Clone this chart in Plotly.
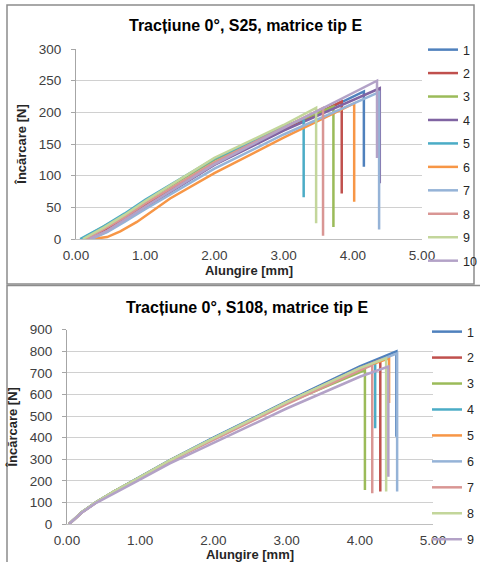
import plotly.graph_objects as go

FONT = "Liberation Sans, Arial, sans-serif"
W, H = 480, 562

# ---------------- Data: S25 (top chart) ----------------
s25_names = ["1", "2", "3", "4", "5", "6", "7", "8", "9", "10"]
s25_colors = ["#4F81BD", "#C0504D", "#9BBB59", "#8064A2", "#4BACC6",
              "#F79646", "#95B3D7", "#D99694", "#C3D69B", "#B3A2C7"]
s25_x1 = [0.12, 0.40, 0.70, 1.00, 2.00, 3.00, 4.16, 4.16]
s25_y1 = [0, 14, 32, 53, 118, 172, 233, 114]
s25_x2 = [0.14, 0.40, 0.70, 1.00, 2.00, 3.00, 3.84, 3.84]
s25_y2 = [0, 14, 33, 54, 119, 172, 217, 72]
s25_x3 = [0.08, 0.40, 0.70, 1.00, 2.00, 3.00, 3.72, 3.72]
s25_y3 = [0, 19, 38, 60, 125, 177, 209, 19]
s25_x4 = [0.20, 0.45, 0.70, 1.00, 2.00, 3.00, 4.39, 4.39]
s25_y4 = [0, 12, 29, 50, 117, 171, 238, 88]
s25_x5 = [0.06, 0.40, 0.70, 1.00, 2.00, 3.00, 3.29, 3.29]
s25_y5 = [0, 20, 40, 62, 127, 177, 190, 66]
s25_x6 = [0.22, 0.45, 0.64, 0.88, 1.36, 2.00, 3.00, 4.02, 4.02]
s25_y6 = [0, 3, 12, 27, 64, 104, 160, 214, 59]
s25_x7 = [0.22, 0.45, 0.70, 1.00, 2.00, 3.00, 4.38, 4.38]
s25_y7 = [0, 11, 27, 47, 111, 165, 232, 15]
s25_x8 = [0.15, 0.40, 0.70, 1.00, 2.00, 3.00, 3.57, 3.57]
s25_y8 = [0, 15, 34, 56, 121, 176, 207, 5]
s25_x9 = [0.10, 0.40, 0.70, 1.00, 2.00, 3.00, 3.47, 3.47]
s25_y9 = [0, 18, 38, 60, 128, 180, 207, 25]
s25_x10 = [0.20, 0.45, 0.70, 1.00, 2.00, 3.00, 4.35, 4.35]
s25_y10 = [0, 13, 30, 51, 118, 175, 250, 128]

# ---------------- Data: S108 (bottom chart) ----------------
s108_names = ["1", "2", "3", "4", "5", "6", "7", "8", "9"]
s108_colors = ["#4F81BD", "#C0504D", "#9BBB59", "#4BACC6", "#F79646",
               "#95B3D7", "#D99694", "#C3D69B", "#B3A2C7"]
s108_x1 = [0.03, 0.20, 0.40, 0.65, 0.90, 1.40, 2.00, 3.00, 4.00, 4.50, 4.50]
s108_y1 = [0, 54, 102, 153, 200, 295, 400, 568, 730, 800, 404]
s108_x2 = [0.03, 0.20, 0.40, 0.65, 0.90, 1.40, 2.00, 3.00, 4.00, 4.28, 4.28]
s108_y2 = [0, 53, 101, 152, 198, 292, 395, 562, 722, 760, 150]
s108_x3 = [0.03, 0.20, 0.40, 0.65, 0.90, 1.40, 2.00, 3.00, 4.07, 4.07]
s108_y3 = [0, 54, 102, 153, 199, 293, 396, 560, 713, 157]
s108_x4 = [0.03, 0.20, 0.40, 0.65, 0.90, 1.40, 2.00, 3.00, 4.00, 4.21, 4.21]
s108_y4 = [0, 54, 102, 153, 199, 294, 398, 565, 720, 745, 444]
s108_x5 = [0.03, 0.20, 0.40, 0.65, 0.90, 1.40, 2.00, 3.00, 4.00, 4.40, 4.40]
s108_y5 = [0, 53, 101, 152, 198, 292, 395, 563, 720, 768, 560]
s108_x6 = [0.03, 0.20, 0.40, 0.65, 0.90, 1.40, 2.00, 3.00, 4.00, 4.51, 4.51]
s108_y6 = [0, 53, 101, 152, 198, 293, 396, 562, 722, 790, 150]
s108_x7 = [0.03, 0.20, 0.40, 0.65, 0.90, 1.40, 2.00, 3.00, 4.00, 4.17, 4.17]
s108_y7 = [0, 53, 100, 150, 196, 290, 390, 555, 712, 736, 143]
s108_x8 = [0.03, 0.20, 0.40, 0.65, 0.90, 1.40, 2.00, 3.00, 4.00, 4.36, 4.36]
s108_y8 = [0, 54, 102, 153, 199, 294, 397, 564, 722, 768, 150]
s108_x9 = [0.03, 0.20, 0.40, 0.65, 0.90, 1.40, 2.00, 3.00, 4.00, 4.39, 4.39]
s108_y9 = [0, 52, 98, 145, 188, 280, 377, 535, 682, 729, 219]

s25_xs = [s25_x1, s25_x2, s25_x3, s25_x4, s25_x5, s25_x6, s25_x7, s25_x8, s25_x9, s25_x10]
s25_ys = [s25_y1, s25_y2, s25_y3, s25_y4, s25_y5, s25_y6, s25_y7, s25_y8, s25_y9, s25_y10]
s108_xs = [s108_x1, s108_x2, s108_x3, s108_x4, s108_x5, s108_x6, s108_x7, s108_x8, s108_x9]
s108_ys = [s108_y1, s108_y2, s108_y3, s108_y4, s108_y5, s108_y6, s108_y7, s108_y8, s108_y9]

x_ticks = [0, 1, 2, 3, 4, 5]
x_ticklabels = ["0.00", "1.00", "2.00", "3.00", "4.00", "5.00"]
s25_yticks = [0, 50, 100, 150, 200, 250, 300]
s108_yticks = [0, 100, 200, 300, 400, 500, 600, 700, 800, 900]

title_top = "Tracțiune 0°, S25, matrice tip E"
title_bot = "Tracțiune 0°, S108, matrice tip E"
x_title = "Alungire [mm]"
y_title = "Încărcare [N]"

fig = go.Figure()

for name, col, xs, ys in zip(s25_names, s25_colors, s25_xs, s25_ys):
    fig.add_trace(go.Scatter(x=xs, y=ys, mode="lines", name=name,
                             line=dict(color=col, width=2.5),
                             xaxis="x", yaxis="y", legend="legend",
                             legendgroup="a" + name))
for name, col, xs, ys in zip(s108_names, s108_colors, s108_xs, s108_ys):
    fig.add_trace(go.Scatter(x=xs, y=ys, mode="lines", name=name,
                             line=dict(color=col, width=2.5),
                             xaxis="x2", yaxis="y2", legend="legend2",
                             legendgroup="b" + name))

def px_x(p):
    return p / W

def px_y(p):
    return 1 - p / H

tickfont = dict(family=FONT, size=13.5, color="#404040")
titlefont = dict(family=FONT, size=13, color="#262626", weight="bold")

common_x = dict(range=[0, 5], tickvals=x_ticks, ticktext=x_ticklabels,
                showgrid=False, zeroline=False, showline=True, linecolor="#BFBFBF",
                linewidth=1, ticks="", tickfont=tickfont, ticklabelstandoff=4,
                title=dict(text=x_title, font=titlefont, standoff=3))
common_y = dict(showgrid=True, gridcolor="#D0D0D0", gridwidth=1, zeroline=False,
                showline=True, linecolor="#A6A6A6", linewidth=1,
                ticks="outside", ticklen=4, tickcolor="#A6A6A6",
                tickfont=tickfont, ticklabelstandoff=7,
                title=dict(text=y_title, font=titlefont, standoff=9))

fig.update_layout(
    width=W, height=H,
    margin=dict(l=0, r=0, t=0, b=0, pad=0, autoexpand=False),
    paper_bgcolor="white", plot_bgcolor="white",
    font=dict(family=FONT, color="#262626"),
    xaxis=dict(domain=[px_x(76), px_x(422)], anchor="y", **common_x),
    yaxis=dict(domain=[px_y(239), px_y(49)], anchor="x", range=[0, 300],
               tickvals=s25_yticks, **common_y),
    xaxis2=dict(domain=[px_x(67), px_x(433)], anchor="y2", **common_x),
    yaxis2=dict(domain=[px_y(524), px_y(329.7)], anchor="x2", range=[0, 900],
                tickvals=s108_yticks, **common_y),
    legend=dict(x=px_x(423), y=px_y(35), xanchor="left", yanchor="top",
                font=dict(family=FONT, size=12.5, color="#262626"),
                tracegroupgap=4.2, bgcolor="rgba(0,0,0,0)"),
    legend2=dict(x=px_x(427), y=px_y(317), xanchor="left", yanchor="top",
                 font=dict(family=FONT, size=12.5, color="#262626"),
                 tracegroupgap=6.7, bgcolor="rgba(0,0,0,0)"),
    showlegend=True,
    annotations=[
        dict(text=title_top, x=px_x(246), y=px_y(26), xref="paper", yref="paper",
             showarrow=False, xanchor="center", yanchor="middle",
             font=dict(family=FONT, size=16, color="#000000", weight="bold")),
        dict(text=title_bot, x=px_x(247), y=px_y(307), xref="paper", yref="paper",
             showarrow=False, xanchor="center", yanchor="middle",
             font=dict(family=FONT, size=16, color="#000000", weight="bold")),
    ],
    shapes=[
        dict(type="rect", xref="paper", yref="paper",
             x0=px_x(7), x1=px_x(474), y0=px_y(284), y1=px_y(5),
             line=dict(color="#8C8C8C", width=1.5)),
        dict(type="rect", xref="paper", yref="paper",
             x0=px_x(7), x1=1.05, y0=-0.05, y1=px_y(285.5),
             line=dict(color="#8C8C8C", width=1.5)),
    ],
)

fig.write_html("out.html")
